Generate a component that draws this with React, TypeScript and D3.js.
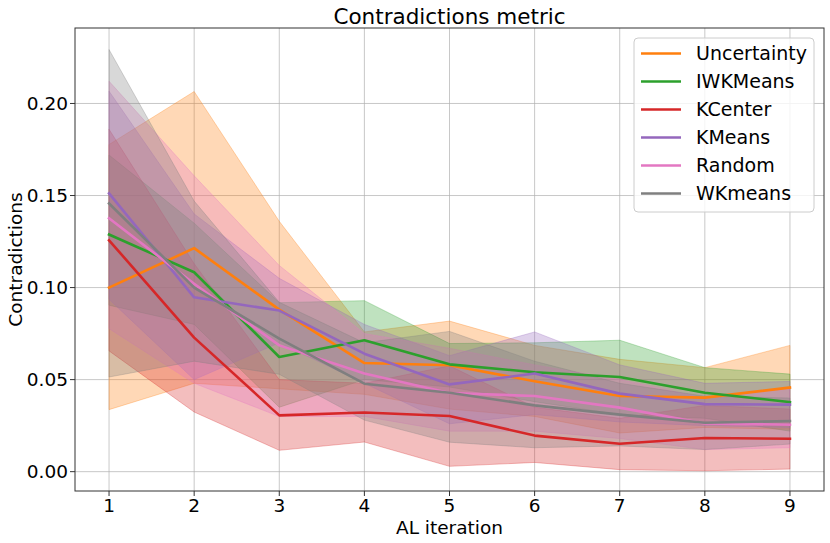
import React from "react";
import * as d3 from "d3";

const WIDTH = 830;
const HEIGHT = 543;
const MARGIN = { top: 28, right: 6, bottom: 52, left: 75 };

const iterations = [1, 2, 3, 4, 5, 6, 7, 8, 9];
const yTicks = [0.0, 0.05, 0.1, 0.15, 0.2];

const names = ["Uncertainty", "IWKMeans", "KCenter", "KMeans", "Random", "WKmeans"];
const colors = ["#ff7f0e", "#2ca02c", "#d62728", "#9467bd", "#e377c2", "#7f7f7f"];

// mean lines
const uncertaintyMean = [0.1, 0.1214, 0.088, 0.059, 0.0578, 0.0491, 0.0411, 0.0402, 0.0457];
const iwkmeansMean = [0.1288, 0.1083, 0.0623, 0.0714, 0.0583, 0.054, 0.0514, 0.0429, 0.0378];
const kcenterMean = [0.1257, 0.0728, 0.0306, 0.0321, 0.0302, 0.0196, 0.0152, 0.0183, 0.0179];
const kmeansMean = [0.1512, 0.0947, 0.0875, 0.0641, 0.0474, 0.0533, 0.0424, 0.0367, 0.0364];
const randomMean = [0.1377, 0.102, 0.0686, 0.0533, 0.0427, 0.0411, 0.0348, 0.0262, 0.0255];
const wkmeansMean = [0.1457, 0.1, 0.0723, 0.0478, 0.0429, 0.036, 0.031, 0.0266, 0.0275];

// band upper edges
const uncertaintyHigh = [0.1777, 0.2065, 0.136, 0.0759, 0.0818, 0.0686, 0.061, 0.0565, 0.0686];
const iwkmeansHigh = [0.172, 0.135, 0.0918, 0.0929, 0.0696, 0.07, 0.0714, 0.0565, 0.053];
const kcenterHigh = [0.186, 0.113, 0.05, 0.048, 0.0575, 0.035, 0.029, 0.036, 0.034];
const kmeansHigh = [0.2067, 0.14, 0.105, 0.08, 0.063, 0.0759, 0.058, 0.048, 0.049];
const randomHigh = [0.2121, 0.1607, 0.112, 0.075, 0.067, 0.058, 0.05, 0.04, 0.045];
const wkmeansHigh = [0.2293, 0.147, 0.092, 0.07, 0.0762, 0.06, 0.048, 0.041, 0.04];

// band lower edges
const uncertaintyLow = [0.0337, 0.048, 0.045, 0.042, 0.034, 0.03, 0.021, 0.024, 0.023];
const iwkmeansLow = [0.0904, 0.08, 0.035, 0.05, 0.046, 0.038, 0.031, 0.029, 0.022];
const kcenterLow = [0.0656, 0.0324, 0.0116, 0.0161, 0.0029, 0.005, 0.0011, 0.0005, 0.0014];
const kmeansLow = [0.0936, 0.05, 0.07, 0.048, 0.026, 0.031, 0.027, 0.025, 0.024];
const randomLow = [0.0777, 0.048, 0.03, 0.03, 0.022, 0.022, 0.018, 0.012, 0.013];
const wkmeansLow = [0.0514, 0.06, 0.0529, 0.028, 0.016, 0.013, 0.014, 0.012, 0.015];

const means = [uncertaintyMean, iwkmeansMean, kcenterMean, kmeansMean, randomMean, wkmeansMean];
const highs = [uncertaintyHigh, iwkmeansHigh, kcenterHigh, kmeansHigh, randomHigh, wkmeansHigh];
const lows = [uncertaintyLow, iwkmeansLow, kcenterLow, kmeansLow, randomLow, wkmeansLow];

const FONT = "DejaVu Sans, sans-serif";

const App = () => {
  const boundsWidth = WIDTH - MARGIN.left - MARGIN.right;
  const boundsHeight = HEIGHT - MARGIN.top - MARGIN.bottom;

  const xScale = d3.scaleLinear().domain([0.6, 9.4]).range([0, boundsWidth]);
  const yScale = d3.scaleLinear().domain([-0.0105, 0.241]).range([boundsHeight, 0]);

  const bands = names.map((name, k) => {
    const a = d3
      .area<number>()
      .x((_, i) => xScale(iterations[i]))
      .y0((_, i) => yScale(lows[k][i]))
      .y1((_, i) => yScale(highs[k][i]));
    return (
      <path
        key={name}
        d={a(iterations) ?? ""}
        fill={colors[k]}
        fillOpacity={0.3}
        stroke={colors[k]}
        strokeOpacity={0.3}
        strokeWidth={1}
      />
    );
  });

  const lines = names.map((name, k) => {
    const l = d3
      .line<number>()
      .x((_, i) => xScale(iterations[i]))
      .y((d) => yScale(d));
    return (
      <path
        key={name}
        d={l(means[k]) ?? ""}
        fill="none"
        stroke={colors[k]}
        strokeWidth={2.6}
        strokeLinejoin="round"
        strokeLinecap="square"
      />
    );
  });

  const legendX = 634 - MARGIN.left;
  const legendY = 38 - MARGIN.top;

  return (
    <svg
      width={WIDTH}
      height={HEIGHT}
      style={{ position: "absolute", left: 0, top: 0, background: "white" }}
      fontFamily={FONT}
    >
      <text x={MARGIN.left + boundsWidth / 2} y={24} textAnchor="middle" fontSize={21.5}>
        Contradictions metric
      </text>
      <g transform={`translate(${MARGIN.left},${MARGIN.top})`}>
        {/* grid */}
        {iterations.map((t) => (
          <line key={"gx" + t} x1={xScale(t)} x2={xScale(t)} y1={0} y2={boundsHeight} stroke="#b0b0b0" strokeOpacity={0.7} strokeWidth={1} />
        ))}
        {yTicks.map((t) => (
          <line key={"gy" + t} x1={0} x2={boundsWidth} y1={yScale(t)} y2={yScale(t)} stroke="#b0b0b0" strokeOpacity={0.7} strokeWidth={1} />
        ))}
        {bands}
        {lines}
        {/* frame */}
        <rect x={0} y={0} width={boundsWidth} height={boundsHeight} fill="none" stroke="#333" strokeWidth={1} />
        {/* x ticks */}
        {iterations.map((t) => (
          <g key={"tx" + t} transform={`translate(${xScale(t)},${boundsHeight})`}>
            <line y1={0} y2={5} stroke="#333" />
            <text y={20.5} textAnchor="middle" fontSize={18.5}>
              {t}
            </text>
          </g>
        ))}
        {yTicks.map((t) => (
          <g key={"ty" + t} transform={`translate(0,${yScale(t)})`}>
            <line x1={0} x2={-5} stroke="#333" />
            <text x={-7} dy="0.36em" textAnchor="end" fontSize={18.5}>
              {d3.format(".2f")(t)}
            </text>
          </g>
        ))}
        <text x={boundsWidth / 2} y={boundsHeight + 42.5} textAnchor="middle" fontSize={18.5}>
          AL iteration
        </text>
        <text
          transform={`translate(${-53},${boundsHeight / 2}) rotate(-90)`}
          textAnchor="middle"
          fontSize={18.5}
        >
          Contradictions
        </text>
        {/* legend */}
        <g transform={`translate(${legendX},${legendY})`}>
          <rect width={180} height={174} rx={4} fill="white" fillOpacity={0.8} stroke="#cccccc" />
          {names.map((name, k) => (
            <g key={name} transform={`translate(0,${15.5 + k * 28})`}>
              <line x1={7} x2={47} stroke={colors[k]} strokeWidth={2.6} />
              <text x={62} dy="0.35em" fontSize={19}>
                {name}
              </text>
            </g>
          ))}
        </g>
      </g>
    </svg>
  );
};

export default App;
